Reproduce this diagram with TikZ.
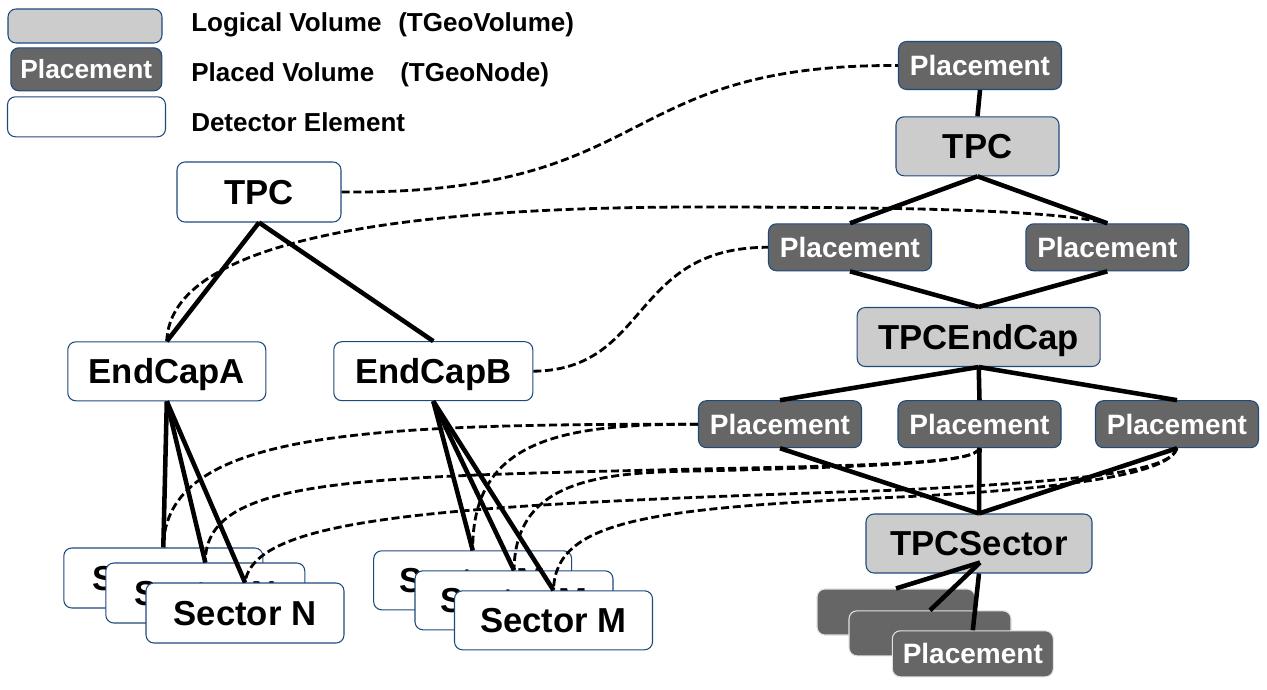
\documentclass[tikz,border=0pt]{standalone}
\usepackage{fontspec}
\setmainfont{Liberation Sans}
\usetikzlibrary{calc}
\definecolor{lvgray}{HTML}{CCCCCC}
\definecolor{pvgray}{HTML}{666666}
\definecolor{bordc}{HTML}{1F497D}
\definecolor{stackb}{HTML}{E2E2E2}
\newcommand\fBig{\bfseries\fontsize{26}{30}\selectfont}
\newcommand\fPl{\bfseries\fontsize{21}{25}\selectfont}
\newcommand\fLgPl{\bfseries\fontsize{19.75}{23}\selectfont}
\newcommand\fLg{\bfseries\fontsize{19.5}{23}\selectfont}
\tikzset{
  box/.style={rounded corners=6pt, draw=bordc, line width=0.8pt, inner sep=0pt,
              text depth=0pt},
  sz/.style 2 args={minimum width=#1*0.75pt, minimum height=#2*0.75pt},
  lv/.style={box, fill=lvgray, font=\fBig, text height=18.6pt},
  pv/.style={box, fill=pvgray, text=white, font=\fPl, text height=15pt},
  de/.style={box, fill=white, font=\fBig, text height=18.6pt},
  pvs/.style={pv, draw=stackb},
  link/.style={line width=3.4pt},
  refl/.style={line width=2.1pt, dash pattern=on 6pt off 2.8pt},
  lgtext/.style={anchor=base west, font=\fLg, inner sep=0pt}
}
\begin{document}
\begin{tikzpicture}[x=0.75pt,y=-0.75pt]
\useasboundingbox (0,0) rectangle (1267,689);

% legend
\node[lv, sz={154}{34}] (lgLV) at (85,26) {};
\node[pv, sz={151}{43}, font=\fLgPl, text height=14.1pt] (lgPV) at (86.3,69.3) {Placement};
\node[de, sz={158}{40}] (lgDE) at (86.5,116.8) {};
\node[lgtext] (lgT1) at (191,31.7) {\makebox[155.25pt][l]{Logical Volume}(TGeoVolume)};
\node[lgtext] (lgT2) at (191,81.7) {\makebox[156.75pt][l]{Placed Volume}(TGeoNode)};
\node[lgtext] (lgT3) at (191,131) {Detector Element};

% right tree (geometry)
\node[pv, sz={163}{48}] (pTop) at (980,65.5) {Placement};
\node[lv, sz={163}{59}] (tpcR) at (977.5,146.3) {TPC};
\node[pv, sz={163}{47}] (pL) at (850,247.3) {Placement};
\node[pv, sz={163}{47}] (pR) at (1107.3,247.3) {Placement};
\node[lv, sz={243}{59}] (endcap) at (978.7,337) {TPCEndCap};
\node[pv, sz={163}{47}] (r1) at (780,424.2) {Placement};
\node[pv, sz={163}{47}] (r2) at (979.5,424.2) {Placement};
\node[pv, sz={163}{47}] (r3) at (1177,424.2) {Placement};
\node[lv, sz={226}{59}] (tpcsec) at (979,543.5) {TPCSector};
\node[pvs, sz={158}{46}] (s1) at (896,612) {};
\node[pvs, sz={162}{45}] (s2) at (930,633.3) {};
\node[pvs, sz={161}{46}] (s3) at (972.8,653.8) {Placement};

% left tree (detector elements)
\node[de, sz={164}{60}] (tpcL) at (259,192) {TPC};
\node[de, sz={198}{59}] (eA) at (166.8,371.3) {EndCapA};
\node[de, sz={199}{59}] (eB) at (433.3,371.2) {EndCapB};
\node[de, sz={199}{60}] (sA1) at (163.3,578) {Sector N};
\node[de, sz={199}{60}] (sA2) at (205.3,593) {Sector N};
\node[de, sz={198}{60}] (sA3) at (245,613) {Sector N};
\node[de, sz={198}{59}] (sB1) at (472.7,580.3) {Sector M};
\node[de, sz={198}{59}] (sB2) at (514,600.3) {Sector M};
\node[de, sz={198}{59}] (sB3) at (553.5,620.3) {Sector M};

% solid links, right
\draw[link] (pTop.south) -- (tpcR.north);
\draw[link] (tpcR.south) -- (pL.north);
\draw[link] (tpcR.south) -- (pR.north);
\draw[link] (pL.south) -- (endcap.north);
\draw[link] (pR.south) -- (endcap.north);
\draw[link] (endcap.south) -- (r1.north);
\draw[link] (endcap.south) -- (r2.north);
\draw[link] (endcap.south) -- (r3.north);
\draw[link] (r1.south) -- (tpcsec.north);
\draw[link] (r2.south) -- (tpcsec.north);
\draw[link] (r3.south) -- (tpcsec.north);
\coordinate (secfan) at ($(tpcsec.south)+(1,-11)$);
\draw[link] (secfan) -- (s1.north);
\draw[link] (secfan) -- (s2.north);
\draw[link] (tpcsec.south) -- (s3.north);

% solid links, left
\draw[link] (tpcL.south) -- (eA.north);
\draw[link] (tpcL.south) -- (eB.north);
\draw[link] (eA.south) -- (sA1.north);
\draw[link] (eA.south) -- (sA2.north);
\draw[link] (eA.south) -- (sA3.north);
\draw[link] (eB.south) -- (sB1.north);
\draw[link] (eB.south) -- (sB2.north);
\draw[link] (eB.south) -- (sB3.north);

% dashed references
\draw[refl] (tpcL.east) .. controls (660,195) and (610,64) .. (pTop.west);
\draw[refl] (eA.north) .. controls (170,240) and (400,207) .. (700,207)
                       .. controls (950,207) and (1060,212) .. (pR.north);
\draw[refl] (eB.east) .. controls (650,370) and (630,247) .. (pL.west);
\draw[refl] (r1.west) .. controls (360,424) and (165,432) .. (sA1.north);
\draw[refl] (r1.west) .. controls (560,424) and (472,440) .. (sB1.north);
\draw[refl] (r2.south) .. controls (975,462) and (900,465) .. (700,469)
                       .. controls (350,477) and (205,478) .. (sA2.north);
\draw[refl] (r2.south) .. controls (975,462) and (900,466) .. (700,471)
                       .. controls (600,472) and (515,480) .. (sB2.north);
\draw[refl] (r3.south) .. controls (1170,470) and (1100,480) .. (900,490)
                       .. controls (450,505) and (255,515) .. (sA3.north);
\draw[refl] (r3.south) .. controls (1170,470) and (1100,487) .. (900,497)
                       .. controls (650,508) and (555,520) .. (sB3.north);
\end{tikzpicture}
\end{document}
